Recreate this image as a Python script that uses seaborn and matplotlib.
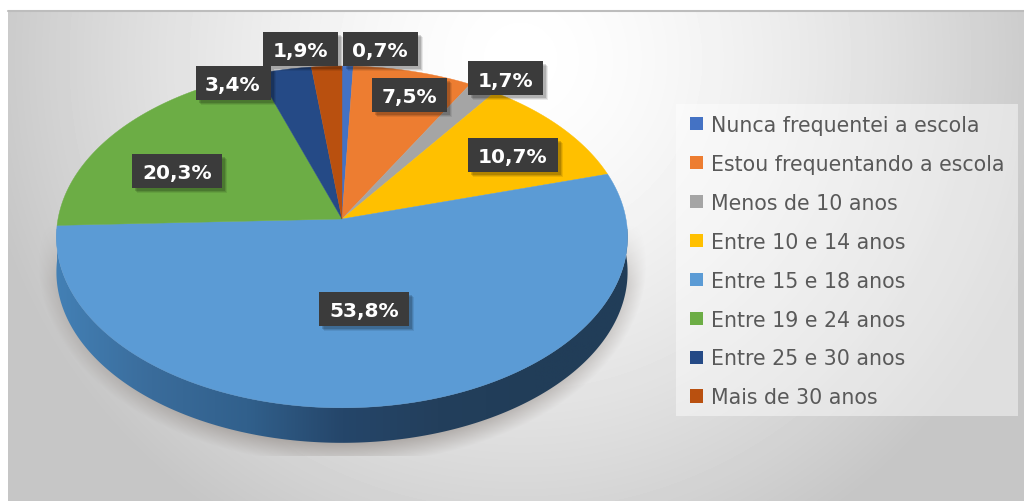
import numpy as np
import matplotlib
matplotlib.use("Agg")
import matplotlib.pyplot as plt
import seaborn as sns
from matplotlib.patches import Patch, Polygon, Rectangle

# data
categories = ["Nunca frequentei a escola", "Estou frequentando a escola", "Menos de 10 anos",
              "Entre 10 e 14 anos", "Entre 15 e 18 anos", "Entre 19 e 24 anos",
              "Entre 25 e 30 anos", "Mais de 30 anos"]
values = [0.7, 7.5, 1.7, 10.7, 53.8, 20.3, 3.4, 1.9]
value_labels = ["0,7%", "7,5%", "1,7%", "10,7%", "53,8%", "20,3%", "3,4%", "1,9%"]
colors = ["#4472C4", "#ED7D31", "#A5A5A5", "#FFC000", "#5B9BD5", "#6CAD45", "#254A86", "#B9500F"]

# layout, in pixels of the 1024x502 image
label_centers = [(380, 50), (409, 96), (505, 79), (513, 156), (364, 310), (177, 172), (233, 84), (300, 50)]
pie_x, pie_y = 342, 220
pie_rx, pie_ry = 284, 169
tilt = 0.105
depth = 35


def project(theta):
    # circle -> tilted disc with a bit of perspective
    a = np.radians(theta)
    k = 1 + tilt * np.sin(a)
    return pie_x + pie_rx * np.cos(a) / k, pie_y - pie_ry * np.sin(a) / k


sns.set_theme(style="white")
plt.rcParams["font.family"] = ["DejaVu Sans"]

fig = plt.figure(figsize=(10.24, 5.02), dpi=100)

# unit pie only gives the slice angles, the faces are redrawn tilted
helper = fig.add_axes([0, 0, 0.01, 0.01])
wedges, _ = helper.pie(values, colors=colors, startangle=90, counterclock=False)
angles = [(w.theta1, w.theta2) for w in wedges]
helper.remove()

ax = fig.add_axes([0, 0, 1, 1])
ax.set_xlim(0, 1024)
ax.set_ylim(502, 0)
ax.axis("off")

# background
gx, gy = np.meshgrid(np.arange(8, 1024), np.arange(12, 502))
dist = np.hypot(gx - 520, gy - 60) / 500
grey = np.clip(255 - 50 * dist ** 1.5, 198, 255) / 255
ax.imshow(grey, cmap="gray", vmin=0, vmax=1, extent=(8, 1024, 502, 12), aspect="auto", zorder=0)
ax.plot([8, 1024], [12, 12], color="#bdbdbd", lw=1.5, zorder=1)

# soft shadow below the disc
sx, sy = np.meshgrid(np.arange(30, 660), np.arange(225, 457))
d = np.hypot((sx - pie_x) / 304, (sy - 265) / 200)
shadow = np.zeros(d.shape + (4,))
shadow[..., :3] = (0.55, 0.52, 0.50)
shadow[..., 3] = np.clip((1 - d) / 0.14, 0, 1) * 0.75 * np.clip((sy - 225) / 60, 0, 1)
ax.imshow(shadow, extent=(30, 660, 457, 225), aspect="auto", zorder=2)

# side wall of the big slice
t = np.linspace(angles[4][0], angles[4][1], 300)
rx, ry = project(t)
wall = Polygon(np.r_[np.c_[rx, ry], np.c_[rx, ry + depth][::-1]], closed=True, fc="none", ec="none", zorder=3)
ax.add_patch(wall)
wall_cmap = sns.blend_palette(["#4380B5", "#3A6C9B", "#31608C", "#25466A", "#233F5C", "#213D58", "#213D58"],
                              as_cmap=True)
im = ax.imshow(np.linspace(0, 1, 256)[None, :], cmap=wall_cmap, extent=(55, 630, 460, 230),
               aspect="auto", zorder=3)
im.set_clip_path(wall)

# top faces
for (a, b), c in zip(angles, colors):
    px, py = project(np.linspace(a, b, 120))
    ax.fill(np.r_[pie_x, px], np.r_[pie_y, py], color=c, lw=0.3, zorder=4)

# value labels
for (x, y), txt in zip(label_centers, value_labels):
    w = 75 if len(txt) == 4 else 90
    for off, al in [(5, 0.08), (4, 0.11), (3, 0.15)]:
        ax.add_patch(Rectangle((x - w / 2 + off, y - 17 + off), w, 34, fc="black", alpha=al, lw=0, zorder=5))
    ax.add_patch(Rectangle((x - w / 2, y - 17), w, 34, fc="#3B3B3B", lw=0, zorder=6))
    ax.text(x, y, txt, color="white", fontsize=14.5, fontweight="bold", ha="center", va="center_baseline", zorder=7)

# legend, the panel behind it is drawn apart
ax.add_patch(Rectangle((676, 105), 342, 312, fc="white", alpha=0.45, lw=0, zorder=5))
handles = [Patch(facecolor=c, edgecolor="none") for c in colors]
leg = ax.legend(handles, categories, loc="upper left", bbox_to_anchor=(690, 116), bbox_transform=ax.transData,
                borderaxespad=0, borderpad=0, fontsize=14.8, frameon=False, labelcolor="#595959",
                labelspacing=0.92, handlelength=0.63, handleheight=0.63, handletextpad=0.39)
leg.set_zorder(6)

fig.savefig("out.png", dpi=100)
